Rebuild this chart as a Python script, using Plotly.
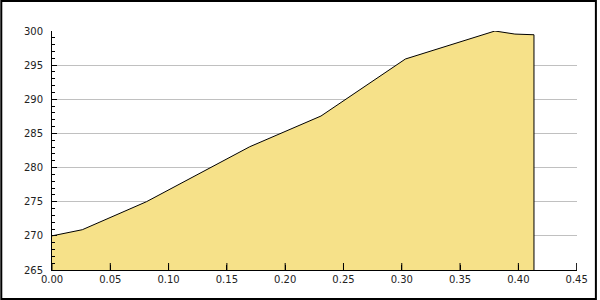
import plotly.graph_objects as go

# Data
x_vals = [0.000, 0.026, 0.081, 0.1696, 0.2307, 0.3031, 0.3799, 0.397, 0.4134]
y_vals = [270.0, 270.9, 275.0, 283.05, 287.55, 295.9, 300.0, 299.55, 299.45]
x_ticks = [0.00, 0.05, 0.10, 0.15, 0.20, 0.25, 0.30, 0.35, 0.40, 0.45]

y_min, y_max = 265, 300
x_min, x_max = 0, 0.45

W, H = 600, 300
ML, MR, MT, MB = 52, 20, 31, 30
PW, PH = W - ML - MR, H - MT - MB

def px2paper_x(p):
    return (p - ML) / PW

def px2paper_y(q):
    return (H - MB - q) / PH

fig = go.Figure()
fig.add_trace(go.Scatter(
    x=x_vals, y=y_vals, mode="lines", fill="tozeroy",
    fillcolor="#F6E189", line=dict(color="black", width=1),
    hoverinfo="skip", showlegend=False,
))
# right edge drop of the area
fig.add_trace(go.Scatter(
    x=[x_vals[-1], x_vals[-1]], y=[y_vals[-1], y_min], mode="lines",
    line=dict(color="black", width=1), hoverinfo="skip", showlegend=False,
))
# inside x tick marks (drawn above the fill)
fig.add_trace(go.Scatter(
    x=x_ticks, y=[y_min] * len(x_ticks), mode="markers",
    marker=dict(symbol="line-ns-open", size=10, color="black",
                line=dict(color="black", width=1)),
    cliponaxis=True, hoverinfo="skip", showlegend=False,
))

font = dict(family="DejaVu Sans", size=10, color="#222222")

fig.update_layout(
    width=W, height=H,
    margin=dict(l=ML, r=MR, t=MT, b=MB, pad=0),
    paper_bgcolor="white", plot_bgcolor="white",
    font=font,
    xaxis=dict(
        range=[x_min, x_max + 0.0003], tickvals=x_ticks, tickformat=".2f",
        showgrid=False, zeroline=False,
        showline=True, linecolor="black", linewidth=1,
        ticks="inside", ticklen=5, tickcolor="black", tickwidth=1,
        tickfont=font,
    ),
    yaxis=dict(
        range=[y_min, y_max], dtick=5, tick0=265,
        showgrid=True, gridcolor="#C0C0C0", gridwidth=1, zeroline=False,
        showline=True, linecolor="black", linewidth=1,
        ticks="inside", ticklen=5, tickcolor="black", tickwidth=1,
        minor=dict(ticks="inside", ticklen=3, dtick=1, tickcolor="black", showgrid=False),
        ticklabelstandoff=6, tickfont=font,
    ),
    shapes=[dict(
        type="rect", xref="paper", yref="paper",
        x0=px2paper_x(1), x1=px2paper_x(W - 1),
        y0=px2paper_y(H - 1), y1=px2paper_y(1),
        line=dict(color="black", width=2), fillcolor="rgba(0,0,0,0)",
        layer="above",
    )],
)

fig.write_html("out.html")
